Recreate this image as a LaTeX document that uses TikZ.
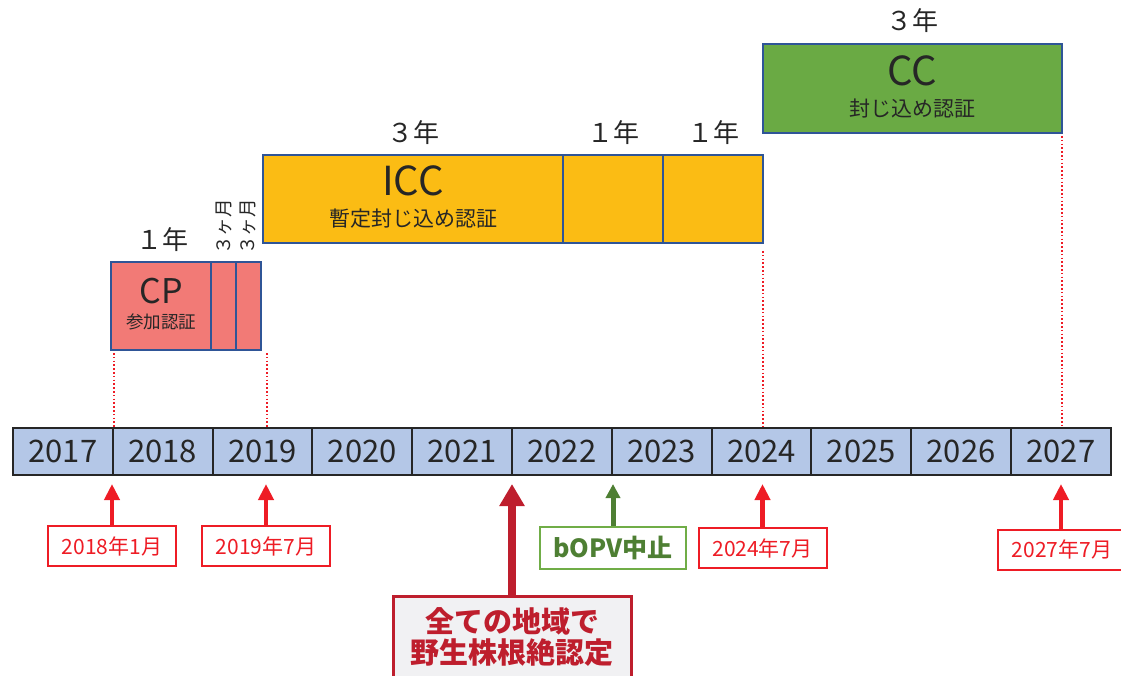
\documentclass[tikz,border=0pt]{standalone}
\usepackage{fontspec}
\setmainfont{Noto Sans CJK JP}
\usetikzlibrary{arrows.meta}
\definecolor{barblue}{HTML}{B4C7E7}
\definecolor{boxblue}{HTML}{2F5597}
\definecolor{cpred}{HTML}{F27A76}
\definecolor{iccyel}{HTML}{FBBC14}
\definecolor{ccgreen}{HTML}{6AAA44}
\definecolor{txt}{HTML}{262626}
\definecolor{brightred}{HTML}{EE1C25}
\definecolor{darkred}{HTML}{BE1E2D}
\definecolor{dkgreen}{HTML}{4E7F33}
\definecolor{ltgreen}{HTML}{70AD47}
\definecolor{greybg}{HTML}{F1F1F3}
\newcommand{\fs}[1]{\fontsize{#1}{#1}\selectfont}
\begin{document}
\begin{tikzpicture}[x=1pt,y=-1pt,
  yearcell/.style={draw=black!85, line width=2pt, fill=barblue, minimum width=99.8, minimum height=47, inner sep=0, text=txt, font=\fs{31}},
  certbox/.style={draw=boxblue, line width=1.5pt, inner sep=0, minimum height=88},
  title/.style={text=txt, inner sep=0},
  datebox/.style={draw=brightred, line width=2pt, fill=white, text=brightred, font=\fs{21}, minimum width=128, minimum height=40, inner sep=0},
  redarrow/.style={draw=brightred, line width=4.5pt, -{Triangle[length=16pt,width=15pt]}, shorten >=8pt},
  reddot/.style={draw=brightred, line width=1.6pt, dash pattern=on 1.6pt off 2.2pt}
]
\useasboundingbox (0,0) rectangle (1121,676);

% timeline
\foreach \i/\yr in {0/2017,1/2018,2/2019,3/2020,4/2021,5/2022,6/2023,7/2024,8/2025,9/2026,10/2027}
  \node[yearcell] (y\yr) at ({62.9+99.8*\i},451.5) {\yr};

% CP
\node[certbox, fill=cpred, minimum width=100] (cp) at (161,306) {};
\node[certbox, fill=cpred, minimum width=25] (cpa) at (223.5,306) {};
\node[certbox, fill=cpred, minimum width=25] (cpb) at (248.5,306) {};
\node[title, font=\fs{34}] (cpt) at (161,291) {CP};
\node[title, font=\fs{17.5}] (cps) at (161,322) {参加認証};
\node[title, font=\fs{26}] (cpy) at (162,240) {１年};
\node[title, font=\fs{18.5}, rotate=90] (cpm1) at (224,227) {３ヶ月};
\node[title, font=\fs{18.5}, rotate=90] (cpm2) at (248,227) {３ヶ月};

% ICC
\node[certbox, fill=iccyel, minimum width=300] (icc1) at (413,199) {};
\node[certbox, fill=iccyel, minimum width=100] (icc2) at (613,199) {};
\node[certbox, fill=iccyel, minimum width=100] (icc3) at (713,199) {};
\node[title, font=\fs{40}] (icct) at (413,181) {ICC};
\node[title, font=\fs{21}] (iccs) at (413,219) {暫定封じ込め認証};
\node[title, font=\fs{26}] (iccy1) at (413,133) {３年};
\node[title, font=\fs{26}] (iccy2) at (613,133) {１年};
\node[title, font=\fs{26}] (iccy3) at (713,133) {１年};

% CC
\node[certbox, fill=ccgreen, minimum width=299, minimum height=89] (cc) at (912.5,88.5) {};
\node[title, font=\fs{40}] (cct) at (912,71) {CC};
\node[title, font=\fs{21}] (ccs) at (912,109) {封じ込め認証};
\node[title, font=\fs{26}] (ccy) at (912,21) {３年};

% dotted guides
\coordinate (d1) at (114,353);
\coordinate (d2) at (267,353);
\coordinate (d3) at (763,251);
\coordinate (d4) at (1062,136);
\draw[reddot] (d1) -- (d1 |- y2018.north);
\draw[reddot] (d2) -- (d2 |- y2019.north);
\draw[reddot] (d3) -- (d3 |- y2024.north);
\draw[reddot] (d4) -- (d4 |- y2027.north);

% date labels
\node[datebox] (l1) at (112,546) {2018年1月};
\node[datebox] (l2) at (266,546) {2019年7月};
\node[datebox] (l3) at (762.5,548) {2024年7月};
\node[datebox, minimum width=132, anchor=west] (l4) at (997,549.5) {2027年7月\hspace*{4pt}};
\draw[redarrow] (l1.north) -- (l1.north |- y2018.south);
\draw[redarrow] (l2.north) -- (l2.north |- y2019.south);
\draw[redarrow] (l3.north) -- (l3.north |- y2024.south);
\coordinate (a4) at (1061,530);
\draw[redarrow] (a4) -- (a4 |- y2027.south);

% bOPV
\node[draw=ltgreen, line width=2pt, fill=white, text=dkgreen, font=\bfseries\fs{25}, minimum width=146, minimum height=42, inner sep=0] (bopv) at (613,548) {bOPV中止};
\draw[draw=dkgreen, line width=5pt, -{Triangle[length=14pt,width=14pt]}, shorten >=8pt] (bopv.north) -- (bopv.north |- y2023.south);

% eradication
\node[draw=darkred, line width=3pt, fill=greybg, minimum width=238, minimum height=100, inner sep=0, anchor=north] (erad) at (512,595) {};
\node[text=darkred, font=\bfseries\fs{29}, inner sep=0] (e1) at (512,621) {全ての地域で};
\node[text=darkred, font=\bfseries\fs{29}, inner sep=0] (e2) at (512,653) {野生株根絶認定};
\draw[draw=darkred, line width=8pt, -{Triangle[length=22pt,width=24pt]}, shorten >=8pt] (erad.north) -- (erad.north |- y2022.south west);
\end{tikzpicture}
\end{document}
